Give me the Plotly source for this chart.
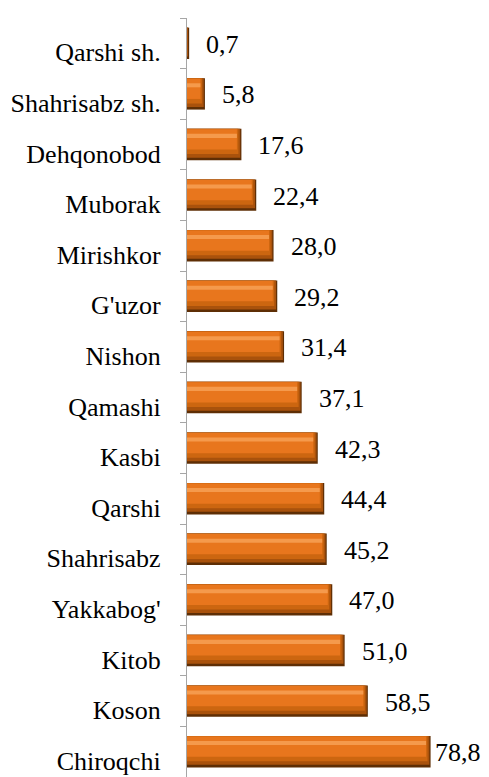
import plotly.graph_objects as go

categories = ["Qarshi sh.", "Shahrisabz sh.", "Dehqonobod", "Muborak", "Mirishkor",
              "G'uzor", "Nishon", "Qamashi", "Kasbi", "Qarshi", "Shahrisabz",
              "Yakkabog'", "Kitob", "Koson", "Chiroqchi"]
values = [0.7, 5.8, 17.6, 22.4, 28.0, 29.2, 31.4, 37.1, 42.3, 44.4, 45.2, 47.0, 51.0, 58.5, 78.8]
value_labels = ["0,7", "5,8", "17,6", "22,4", "28,0", "29,2", "31,4", "37,1", "42,3",
                "44,4", "45,2", "47,0", "51,0", "58,5", "78,8"]

BODY = 8  # default page margin of the html body
W, H = 489 - BODY, 777 - BODY
ML, MR, MT, MB = 187 - BODY, 0, 18 - BODY, 0
XMAX = 97.7
PX = XMAX / (W - ML - MR)  # data units per pixel

FONT = "'Liberation Serif', Tinos, 'Times New Roman', Times, 'DejaVu Serif', 'Noto Serif', serif"

def shrink(px):
    return [max(0.0, v - px * PX) for v in values]

# layers to imitate the bevelled bars: (color, offset, width, shrink_px)
layers = [
    ("#5E2E05", -0.31, 0.62, 0.0),
    ("#A9520C", -0.31, 0.57, 1.2),
    ("#CC6610", -0.31, 0.50, 3.0),
    ("#E8761D", -0.30, 0.40, 4.5),
    ("#F59A4C", -0.21, 0.08, 4.5),
]

fig = go.Figure()
for color, off, wd, sp in layers:
    fig.add_trace(go.Bar(
        y=categories, x=shrink(sp), orientation="h",
        offset=off, width=wd,
        marker=dict(color=color, line=dict(width=0)),
        hoverinfo="skip", showlegend=False,
    ))

vmax = max(values)
for cat, v, lab in zip(categories, values, value_labels):
    fig.add_annotation(
        x=v, y=cat, text=lab, showarrow=False,
        xanchor="left", yanchor="middle",
        xshift=2 if v == vmax else 15, yshift=-1,
        font=dict(family=FONT, size=26, color="#000000"),
    )

fig.update_layout(
    width=W, height=H,
    margin=dict(l=ML, r=MR, t=MT, b=MB, pad=0),
    paper_bgcolor="white", plot_bgcolor="white",
    barmode="overlay",
    showlegend=False,
    font=dict(family=FONT),
)
fig.update_xaxes(range=[0, XMAX], visible=False, showgrid=False, zeroline=False)
fig.update_yaxes(
    type="category", autorange="reversed",
    showline=True, linecolor="#A6A6A6", linewidth=1.3,
    ticks="outside", tickson="boundaries", ticklen=6, tickcolor="#A6A6A6", tickwidth=1.3,
    showgrid=False, zeroline=False,
    tickfont=dict(family=FONT, size=26, color="#000000"),
    ticklabelstandoff=20, ticklabelshift=-9,
)

fig.write_html("out.html")
